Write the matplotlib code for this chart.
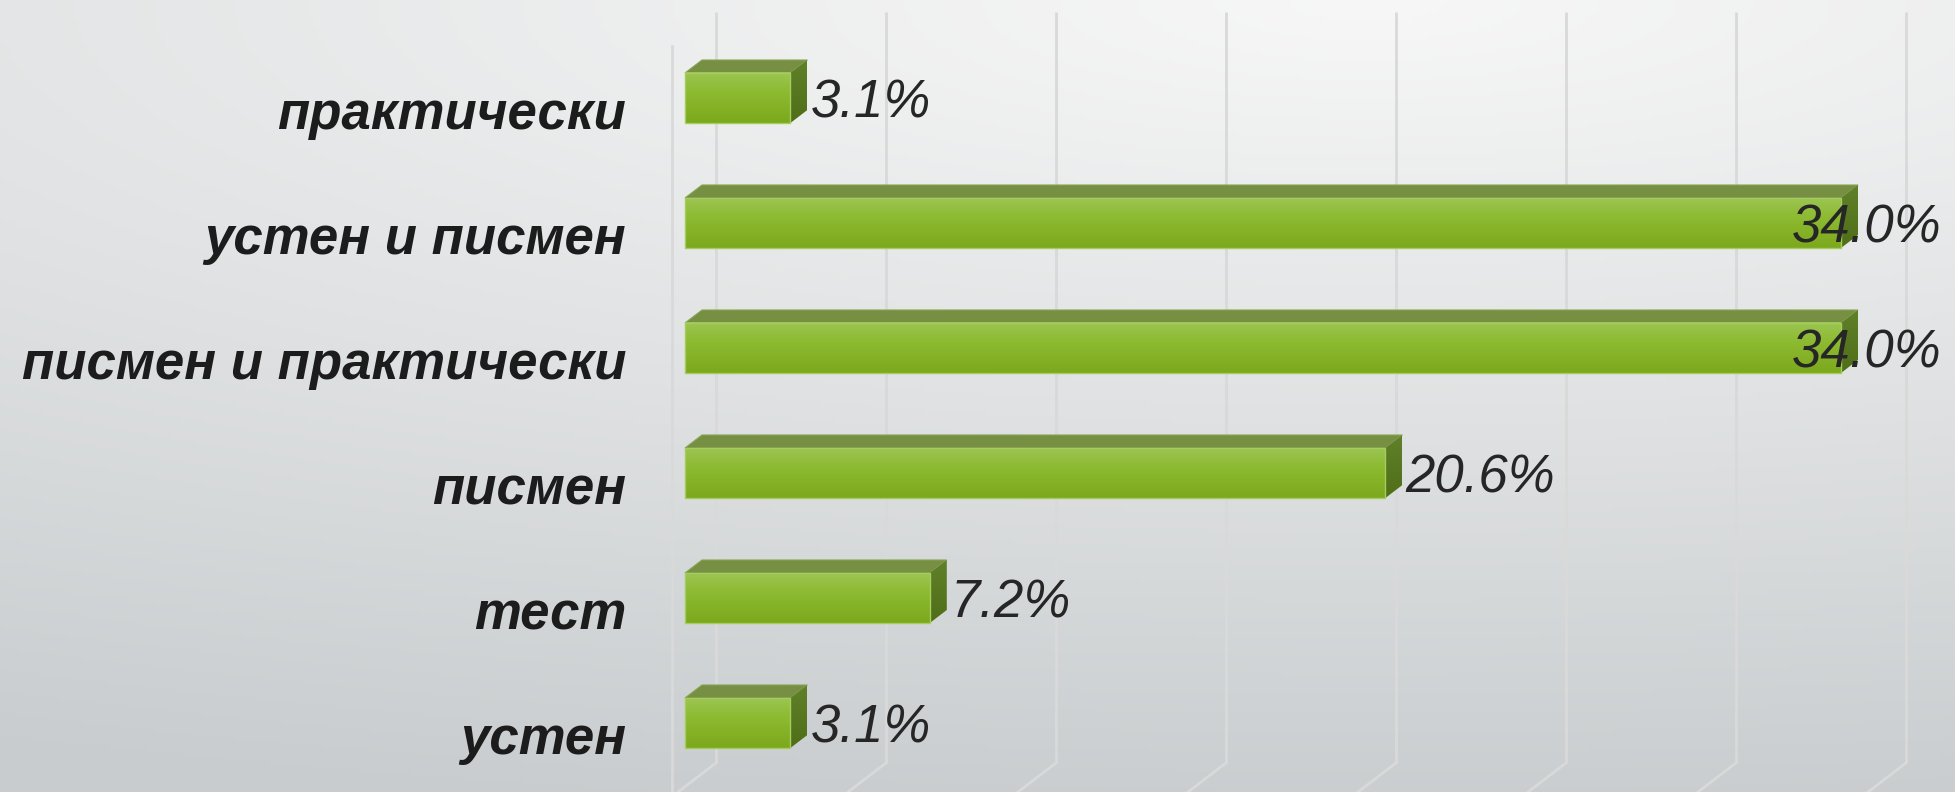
import numpy as np
import matplotlib
matplotlib.use('Agg')
import matplotlib.pyplot as plt
from matplotlib.patches import Polygon

# data (bottom to top)
categories = ['устен', 'тест', 'писмен', 'писмен и практически',
              'устен и писмен', 'практически']
values = [3.1, 7.2, 20.6, 34.0, 34.0, 3.1]
labels = ['3.1%', '7.2%', '20.6%', '34.0%', '34.0%', '3.1%']
grid_ticks = [0, 5, 10, 15, 20, 25, 30, 35]

W, H = 1955, 792
fig = plt.figure(figsize=(W / 100, H / 100), dpi=100)

# background gradient
xx, yy = np.meshgrid(np.linspace(0, 1, 400), np.linspace(0, 1, 200))
t = np.clip(np.sqrt(((xx - 0.7) / 1.7) ** 2 + (yy / 1.05) ** 2), 0, 1)
light = np.array([247, 247, 247]) / 255
dark = np.array([200, 204, 206]) / 255
bg = light[None, None, :] * (1 - t[..., None]) + dark[None, None, :] * t[..., None]
bgax = fig.add_axes([0, 0, 1, 1])
bgax.imshow(bg, aspect='auto', extent=[0, 1, 1, 0])
bgax.axis('off')

# main axes: x in %, y in category index; 34 px per %, 125 px per category
ax = fig.add_axes([0, 0, 1, 1], facecolor='none')
ax.set_xlim((0 - 685) / 34, (W - 685) / 34)
ax.set_ylim((723 - H) / 125, 723 / 125)
ax.axis('off')

# depth direction for one unit of bar depth
ddx, ddy = 0.5, 0.104
d_back, d_front = 1.82, -0.76
wall_top, wall_bot = 5.688, -0.32

grid_col = '#d9d9d9'
for g in grid_ticks:
    xb = g + d_back * ddx
    ax.plot([xb, xb], [wall_bot, wall_top], color=grid_col, lw=2, zorder=1,
            solid_capstyle='butt')
    xf = g + d_front * ddx
    yf = wall_bot + (d_front - d_back) * ddy
    ax.plot([xb, xf], [wall_bot, yf], color=grid_col, lw=2, zorder=1)
# left wall front edge
x0f = d_front * ddx
ax.plot([x0f, x0f], [wall_top + (d_front - d_back) * ddy, -2], color=grid_col,
        lw=2, zorder=1)

# bar gradients
front_grad = np.linspace(0, 1, 100)[:, None]
c_top = np.array([156, 197, 82]) / 255
c_mid = np.array([140, 186, 48]) / 255
c_bot = np.array([124, 168, 28]) / 255
fg = np.where(front_grad < 0.4,
              c_top + (c_mid - c_top) * (front_grad / 0.4),
              c_mid + (c_bot - c_mid) * ((front_grad - 0.4) / 0.6))
fg = fg.reshape(100, 1, 3)
side_grad = np.linspace(0, 1, 100)[:, None]
s_top = np.array([96, 128, 42]) / 255
s_bot = np.array([80, 110, 24]) / 255
sg = (s_top + (s_bot - s_top) * side_grad).reshape(100, 1, 3)

bh = 0.4
for i, v in enumerate(values):
    y0, y1 = i - bh / 2, i + bh / 2
    # top face
    top = Polygon([(0, y1), (v, y1), (v + ddx, y1 + ddy), (ddx, y1 + ddy)],
                  closed=True, facecolor='#768f42', edgecolor='#86a452',
                  lw=0.8, zorder=3)
    ax.add_patch(top)
    # side face
    side = Polygon([(v, y0), (v + ddx, y0 + ddy), (v + ddx, y1 + ddy), (v, y1)],
                   closed=True, facecolor='none', edgecolor='none', zorder=3)
    ax.add_patch(side)
    im = ax.imshow(sg, aspect='auto', extent=[v, v + ddx, y0, y1 + ddy],
                   origin='upper', zorder=3)
    im.set_clip_path(side)
    # front face
    ax.imshow(fg, aspect='auto', extent=[0, v, y0, y1], origin='upper', zorder=4)
    ax.add_patch(Polygon([(0, y0), (v, y0), (v, y1), (0, y1)], closed=True,
                         facecolor='none', edgecolor='#a4cc5e', lw=1, zorder=5))

    # value label
    x_edge = (1941 - 685) / 34
    if v + ddx + 0.1 + 4.2 > x_edge:
        ax.text(x_edge, i - 0.155, labels[i], ha='right', va='baseline',
                fontsize=38, style='italic', family='Liberation Sans',
                color='#262626', zorder=6)
    else:
        ax.text(v + ddx + 0.1, i - 0.155, labels[i], ha='left', va='baseline',
                fontsize=38, style='italic', family='Liberation Sans',
                color='#262626', zorder=6)

    # category label
    ax.text((626 - 685) / 34, i - 0.25, categories[i], ha='right',
            va='baseline', fontsize=38, style='italic', weight='bold',
            family='Liberation Sans', color='#1c1c1c', zorder=6)

fig.savefig('out.png', dpi=100)
